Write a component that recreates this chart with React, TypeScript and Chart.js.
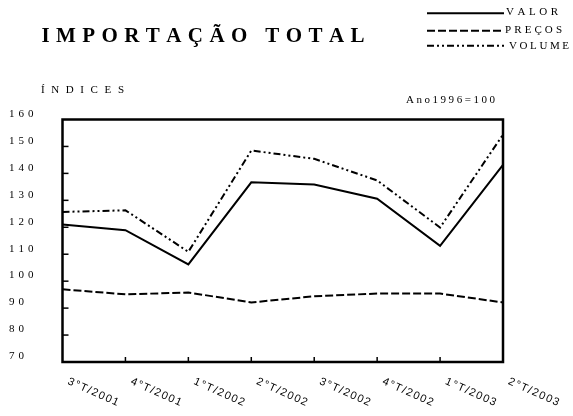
import React, { useEffect, useRef } from "react";
import { Chart, registerables } from "chart.js";
Chart.register(...registerables);

const categories = ["3°T/2001", "4°T/2001", "1°T/2002", "2°T/2002", "3°T/2002", "4°T/2002", "1°T/2003", "2°T/2003"];
const valor = [121.0, 118.9, 106.2, 136.7, 135.9, 130.6, 113.1, 143.2];
const precos = [97.0, 95.1, 95.8, 92.1, 94.4, 95.4, 95.4, 92.1];
const volume = [125.7, 126.3, 110.9, 148.5, 145.4, 137.4, 119.9, 154.4];
const yTicks = [70, 80, 90, 100, 110, 120, 130, 140, 150, 160];
const seriesNames = ["VALOR", "PREÇOS", "VOLUME"];
const seriesDashes = [[], [8, 3], [7, 3, 2, 3, 2, 3]];
const titleText = "IMPORTAÇÃO TOTAL";
const yAxisTitle = "ÍNDICES";
const baseNote = "Ano1996=100";

const SERIF = '"Liberation Serif", "Times New Roman", serif';
const SANS = '"Liberation Sans", Arial, sans-serif';

function drawSpaced(ctx: CanvasRenderingContext2D, text: string, x: number, y: number, spacing: number) {
  let cx = x;
  for (const ch of Array.from(text)) {
    ctx.fillText(ch, cx, y);
    cx += ctx.measureText(ch).width + spacing;
  }
}

function drawFit(ctx: CanvasRenderingContext2D, text: string, x: number, y: number, width: number) {
  const chars = Array.from(text);
  const total = chars.reduce((s, c) => s + ctx.measureText(c).width, 0);
  const sp = chars.length > 1 ? (width - total) / (chars.length - 1) : 0;
  drawSpaced(ctx, text, x, y, sp);
}

const decorPlugin = {
  id: "decor",
  afterDraw(chart: any) {
    const { ctx, chartArea: a, scales } = chart;
    const x = scales.x;
    const y = scales.y;
    ctx.save();
    ctx.fillStyle = "#000";
    ctx.strokeStyle = "#000";
    ctx.setLineDash([]);
    // frame
    ctx.lineWidth = 2.5;
    ctx.strokeRect(a.left, a.top, a.right - a.left, a.bottom - a.top);
    // y ticks (inward)
    ctx.lineWidth = 1.5;
    yTicks.forEach((v) => {
      const py = y.getPixelForValue(v);
      if (v > yTicks[0] && v < yTicks[yTicks.length - 1]) {
        ctx.beginPath();
        ctx.moveTo(a.left, py);
        ctx.lineTo(a.left + 6, py);
        ctx.stroke();
      }
    });
    // x ticks (inward)
    categories.forEach((_, i) => {
      if (i === 0 || i === categories.length - 1) return;
      const px = x.getPixelForValue(i);
      ctx.beginPath();
      ctx.moveTo(px, a.bottom);
      ctx.lineTo(px, a.bottom - 5);
      ctx.stroke();
    });
    // y labels
    ctx.font = `11px ${SERIF}`;
    ctx.textBaseline = "alphabetic";
    ctx.textAlign = "left";
    yTicks.forEach((v) => {
      const py = y.getPixelForValue(v);
      drawSpaced(ctx, String(v), 9, py - 2.7, 4);
    });
    // x labels (rotated)
    ctx.font = `11px ${SANS}`;
    ctx.textBaseline = "top";
    categories.forEach((c, i) => {
      const px = x.getPixelForValue(i);
      ctx.save();
      ctx.translate(px + 8, 376);
      ctx.rotate((24 * Math.PI) / 180);
      drawSpaced(ctx, c, 0, 0, 1.4);
      ctx.restore();
    });
    ctx.textBaseline = "alphabetic";
    // title
    ctx.font = `bold 21px ${SERIF}`;
    drawFit(ctx, titleText, 41.5, 41.7, 323);
    // axis title and base note
    ctx.font = `11px ${SERIF}`;
    drawFit(ctx, yAxisTitle, 41, 93, 83);
    drawFit(ctx, baseNote, 406, 103, 89);
    // legend
    const legendY = [13.3, 30.7, 45.7];
    const legendTextX = [506, 505, 509];
    const legendTextW = [52, 57, 60];
    const legendBase = [15, 33.3, 48.5];
    seriesNames.forEach((n, i) => {
      ctx.lineWidth = 2;
      ctx.setLineDash(seriesDashes[i]);
      ctx.beginPath();
      ctx.moveTo(427, legendY[i]);
      ctx.lineTo(504, legendY[i]);
      ctx.stroke();
      ctx.setLineDash([]);
      drawFit(ctx, n, legendTextX[i], legendBase[i], legendTextW[i]);
    });
    ctx.restore();
  },
};

export default function App() {
  const ref = useRef<HTMLCanvasElement | null>(null);
  useEffect(() => {
    if (!ref.current) return;
    const series = [valor, precos, volume];
    const chart = new Chart(ref.current, {
      type: "line",
      data: {
        labels: categories,
        datasets: series.map((d, i) => ({
          label: seriesNames[i],
          data: d,
          borderColor: "#000",
          backgroundColor: "#000",
          borderWidth: 2,
          borderDash: seriesDashes[i],
          pointRadius: 0,
          tension: 0,
          fill: false,
        })),
      },
      options: {
        responsive: false,
        animation: false,
        layout: { padding: { left: 62.5, top: 119.5, right: 70, bottom: 54 } },
        plugins: { legend: { display: false }, title: { display: false }, tooltip: { enabled: false } },
        scales: {
          x: { type: "category", display: false, offset: false },
          y: { type: "linear", display: false, min: 70, max: 160 },
        },
      },
      plugins: [decorPlugin],
    });
    return () => chart.destroy();
  }, []);
  return (
    <div style={{ position: "fixed", left: 0, top: 0, width: 573, height: 416, background: "#fff" }}>
      <canvas ref={ref} width={573} height={416} style={{ display: "block", width: 573, height: 416 }} />
    </div>
  );
}
